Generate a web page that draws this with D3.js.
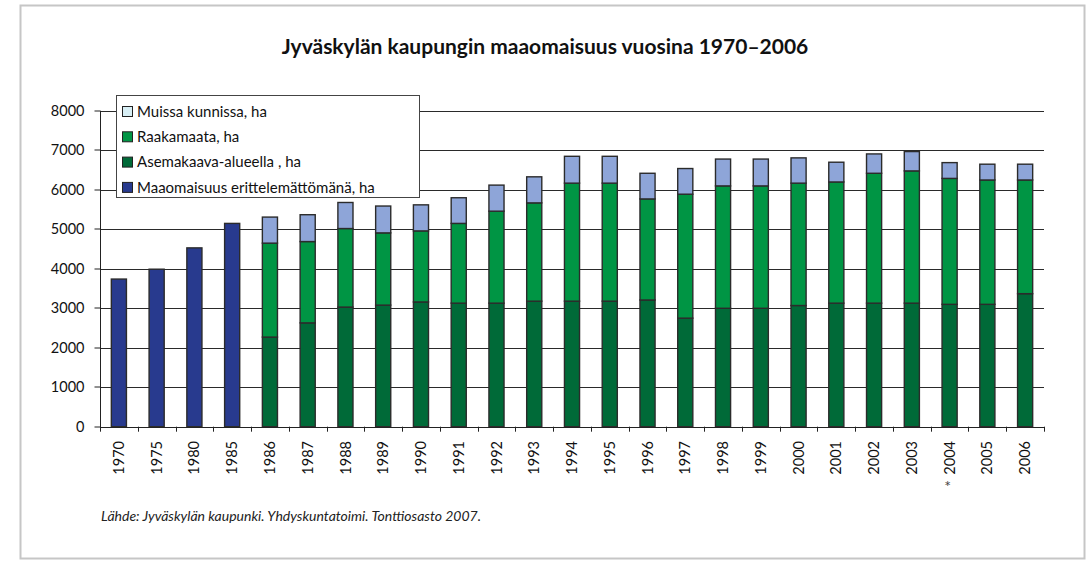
<!DOCTYPE html>
<html>
<head>
<meta charset="utf-8">
<script src="https://cdn.jsdelivr.net/npm/d3@7"></script>
<style>
  body { margin: 0; background: #fff; }
  svg { display: block; font-family: Lato, "Open Sans", sans-serif; }
</style>
</head>
<body>
<svg id="chart" width="1091" height="561"></svg>
<script>
// Years on the x axis
const years = ["1970", "1975", "1980", "1985", "1986", "1987", "1988", "1989", "1990", "1991",
    "1992", "1993", "1994", "1995", "1996", "1997", "1998", "1999", "2000", "2001",
    "2002", "2003", "2004", "2005", "2006"];

// Series values, ha
const erittelematon = [3740, 3990, 4530, 5150, 0, 0, 0, 0, 0, 0, 0, 0, 0, 0, 0, 0, 0, 0, 0, 0, 0, 0, 0, 0, 0];
const asemakaava = [0, 0, 0, 0, 2270, 2630, 3030, 3080, 3160, 3130, 3130, 3180, 3180, 3180, 3210, 2750,
    3000, 3000, 3070, 3130, 3130, 3130, 3100, 3100, 3370];
const raakamaata = [0, 0, 0, 0, 2380, 2060, 1990, 1830, 1800, 2020, 2330, 2490, 2990, 2990, 2560, 3140,
    3100, 3100, 3100, 3070, 3290, 3350, 3190, 3150, 2880];
const muissa = [0, 0, 0, 0, 660, 680, 660, 680, 660, 650, 660, 660, 680, 680, 650, 650,
    680, 680, 640, 500, 490, 490, 400, 400, 400];

const yTicks = [0, 1000, 2000, 3000, 4000, 5000, 6000, 7000, 8000];

const series = [
    { key: "erittelematon", label: "Maaomaisuus erittelemättömänä, ha", values: erittelematon, fill: "#283a8e", swatch: "#283a8e" },
    { key: "asemakaava", label: "Asemakaava-alueella , ha", values: asemakaava, fill: "#006a38", swatch: "#006a38" },
    { key: "raakamaata", label: "Raakamaata, ha", values: raakamaata, fill: "#009544", swatch: "#009544" },
    { key: "muissa", label: "Muissa kunnissa, ha", values: muissa, fill: "#8ea5d8", swatch: "#d8eff5" }
];

// Build table for stacking
const table = years.map((y, i) => {
    const row = { year: y };
    series.forEach(s => row[s.key] = s.values[i]);
    return row;
});

const svg = d3.select("#chart");
const margin = { left: 100, right: 1044, top: 110.9, bottom: 426.7 };

// outer frame
svg.append("rect")
    .attr("x", 20.5).attr("y", 5.5)
    .attr("width", 1064).attr("height", 553)
    .attr("fill", "none")
    .attr("stroke", "#c6c6c6")
    .attr("stroke-width", 2);

// title
svg.append("text")
    .attr("x", 545).attr("y", 54)
    .attr("text-anchor", "middle")
    .attr("font-size", 21)
    .attr("font-weight", "bold")
    .attr("fill", "#111")
    .text("Jyväskylän kaupungin maaomaisuus vuosina 1970–2006");

const x = d3.scaleBand().domain(years).range([margin.left, margin.right])
    .paddingInner(0.6).paddingOuter(0.3);
const xOuter = d3.scaleBand().domain(years).range([margin.left, margin.right]).padding(0);
const y = d3.scaleLinear().domain([0, 8000]).range([margin.bottom, margin.top]);

// gridlines
svg.append("g").selectAll("line")
    .data(yTicks.filter(d => d > 0))
    .enter().append("line")
    .attr("x1", margin.left).attr("x2", margin.right)
    .attr("y1", d => Math.round(y(d)) + 0.5).attr("y2", d => Math.round(y(d)) + 0.5)
    .attr("stroke", "#2a2a2a")
    .attr("stroke-width", 1);

// stacked bars
const stack = d3.stack().keys(series.map(s => s.key));
const layers = stack(table);

svg.append("g").selectAll("g")
    .data(layers)
    .enter().append("g")
    .attr("fill", (d, i) => series[i].fill)
    .selectAll("rect")
    .data(d => d.filter(p => p[1] - p[0] > 0))
    .enter().append("rect")
    .attr("x", d => x(d.data.year))
    .attr("width", x.bandwidth())
    .attr("y", d => y(d[1]))
    .attr("height", d => y(d[0]) - y(d[1]))
    .attr("stroke", "#2b2b2b")
    .attr("stroke-width", 1.4);

// y axis
const yAxis = svg.append("g").attr("transform", `translate(${margin.left + 0.5},0)`);
yAxis.append("line")
    .attr("y1", margin.top).attr("y2", margin.bottom + 4)
    .attr("stroke", "#222");
yAxis.selectAll(".tick")
    .data(yTicks)
    .enter().append("line")
    .attr("x1", -6).attr("x2", 0)
    .attr("y1", d => Math.round(y(d))).attr("y2", d => Math.round(y(d)))
    .attr("stroke", "#222");
yAxis.selectAll("text")
    .data(yTicks)
    .enter().append("text")
    .attr("x", -16)
    .attr("y", d => y(d))
    .attr("dy", "0.35em")
    .attr("text-anchor", "end")
    .attr("font-size", 14.5)
    .attr("fill", "#111")
    .text(d => d);

// x axis
const xAxis = svg.append("g");
xAxis.append("line")
    .attr("x1", margin.left).attr("x2", margin.right)
    .attr("y1", Math.round(margin.bottom) + 0.5).attr("y2", Math.round(margin.bottom) + 0.5)
    .attr("stroke", "#222");
xAxis.selectAll(".tick")
    .data(years.map(d => xOuter(d)).concat([margin.right]))
    .enter().append("line")
    .attr("x1", d => Math.round(d) + 0.5).attr("x2", d => Math.round(d) + 0.5)
    .attr("y1", margin.bottom).attr("y2", margin.bottom + 5)
    .attr("stroke", "#222");
xAxis.selectAll("text")
    .data(years)
    .enter().append("text")
    .attr("transform", d => `translate(${xOuter(d) + xOuter.bandwidth() / 2},441) rotate(-90)`)
    .attr("text-anchor", "end")
    .attr("dy", "0.35em")
    .attr("font-size", 14.5)
    .attr("fill", "#111")
    .text(d => d);

// asterisk under 2004
svg.append("text")
    .attr("x", xOuter("2004") + xOuter.bandwidth() / 2 - 2)
    .attr("y", 492)
    .attr("text-anchor", "middle")
    .attr("font-size", 16)
    .attr("fill", "#444")
    .text("*");

// legend
const legend = svg.append("g");
legend.append("rect")
    .attr("x", 116.5).attr("y", 95.5)
    .attr("width", 303).attr("height", 102)
    .attr("fill", "#fff")
    .attr("stroke", "#444");
const legendItems = series.slice().reverse();
legendItems.forEach((s, i) => {
    const cy = 111.5 + i * 25.3;
    legend.append("rect")
        .attr("x", 122.5).attr("y", cy - 5)
        .attr("width", 10).attr("height", 10)
        .attr("fill", s.swatch)
        .attr("stroke", "#222");
    legend.append("text")
        .attr("x", 137).attr("y", cy)
        .attr("dy", "0.35em")
        .attr("font-size", 15)
        .attr("fill", "#111")
        .text(s.label);
});

// source
svg.append("text")
    .attr("x", 101).attr("y", 521)
    .attr("font-size", 14)
    .attr("font-style", "italic")
    .attr("fill", "#222")
    .text("Lähde: Jyväskylän kaupunki. Yhdyskuntatoimi. Tonttiosasto 2007.");
</script>
</body>
</html>
